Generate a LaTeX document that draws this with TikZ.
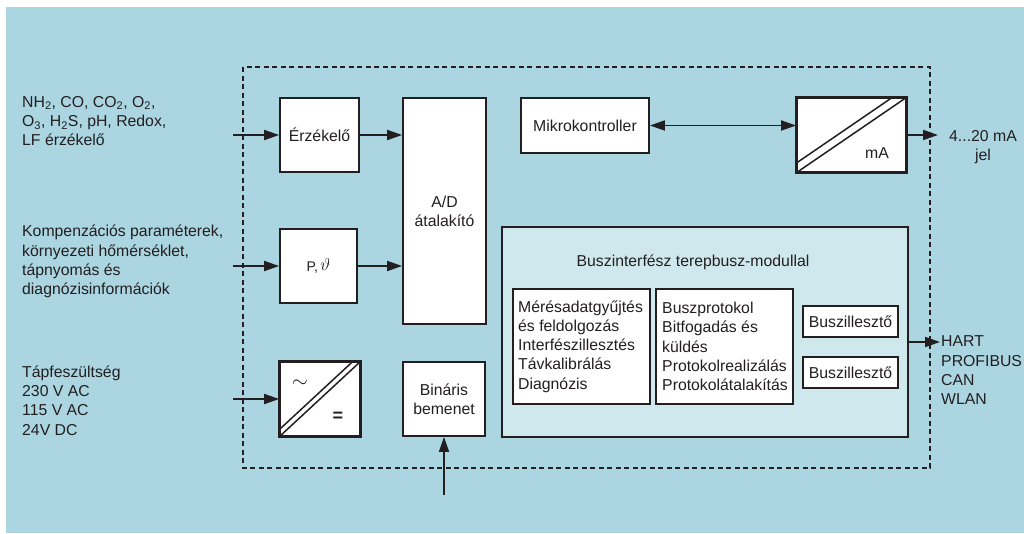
\documentclass[tikz,border=0pt]{standalone}
\usepackage{fontspec}
\setmainfont{Liberation Sans}
\usetikzlibrary{arrows.meta}
\definecolor{bgblue}{RGB}{170,213,225}
\definecolor{busfill}{RGB}{207,232,238}
\definecolor{ink}{RGB}{35,31,32}
\tikzset{
  blk/.style={draw=ink, fill=white, line width=1.8pt, inner sep=0pt, align=center, text=ink},
  arr/.style={draw=ink, line width=1.8pt, -{Triangle[length=15pt,width=10pt]}},
  darr/.style={draw=ink, line width=1.8pt, {Triangle[length=15pt,width=10pt]}-{Triangle[length=15pt,width=10pt]}},
  txt/.style={inner sep=0pt, align=left, text=ink, font=\fontsize{15.8}{19.3}\selectfont},
  diag/.style={draw=ink, line width=1.5pt}
}
\begin{document}
\begin{tikzpicture}[x=1pt,y=-1pt, font=\fontsize{15.8}{19.3}\selectfont]
\useasboundingbox (0,0) rectangle (1024,533);
\fill[white] (0,0) rectangle (1024,533);
\fill[bgblue] (6,7) rectangle (1024,533);
% dashed frame
\draw[ink, line width=1.8pt, dash pattern=on 5pt off 3.5pt] (243,67) rectangle (930,468);

% blocks
\node[blk, minimum width=79pt, minimum height=74pt] (erz) at (319.5,135) {Érzékelő};
\node[blk, minimum width=83pt, minimum height=226pt] (ad) at (444.5,211) {A/D\\átalakító};
\node[blk, minimum width=128pt, minimum height=55pt] (mik) at (585,125.5) {Mikrokontroller};
\node[blk, minimum width=109pt, minimum height=74pt] (ma) at (851.5,135) {};
\node[blk, minimum width=77pt, minimum height=74pt, font=\fontsize{14}{16}\selectfont] (pt) at (318.5,266) {P,\,\raisebox{0.3pt}{\fontsize{17}{17}\selectfont$\vartheta$}};
\node[blk, minimum width=80pt, minimum height=74pt] (pow) at (320,399) {};
\node[blk, minimum width=82pt, minimum height=74pt] (bin) at (444,399) {Bináris\\bemenet};
\node[blk, fill=busfill, minimum width=406pt, minimum height=210pt] (bus) at (705,332) {};
\node[txt] (bustitle) at (693,262) {Buszinterfész terepbusz-modullal};
\node[blk, minimum width=137pt, minimum height=115pt] (in1) at (581.5,346.5) {};
\node[blk, minimum width=137pt, minimum height=115pt] (in2) at (724.5,346.5) {};
\node[txt, anchor=west] (t1) at (518,346.5) {Mérésadatgyűjtés\\és feldolgozás\\Interfészillesztés\\Távkalibrálás\\Diagnózis};
\node[txt, anchor=west] (t2) at (662,346.5) {Buszprotokol\\Bitfogadás és\\küldés\\Protokolrealizálás\\Protokolátalakítás};
\node[blk, minimum width=95pt, minimum height=31pt] (bi1) at (850.5,321.5) {Buszillesztő};
\node[blk, minimum width=95pt, minimum height=31pt] (bi2) at (850.5,372.5) {Buszillesztő};

% converter diagonals
\begin{scope}
  \clip (ma.south west) rectangle (ma.north east);
  \draw[diag] (ma.south west) -- (ma.north east);
  \draw[diag] ([shift={(-4.5,-6.6)}]ma.south west) -- ([shift={(-4.5,-6.6)}]ma.north east);
\end{scope}
\node[txt] (malbl) at (877,153) {mA};
\begin{scope}
  \clip (pow.south west) rectangle (pow.north east);
  \draw[diag] (pow.south west) -- (pow.north east);
  \draw[diag] ([shift={(-3.8,-3.6)}]pow.south west) -- ([shift={(-3.8,-3.6)}]pow.north east);
\end{scope}
\node[txt, font=\fontsize{22}{22}\selectfont] (tilde) at (300,384) {$\sim$};
\node[txt, font=\bfseries\fontsize{18}{19}\selectfont] (eq) at (338,417) {=};
\draw[ink, line width=1.8pt] (pow.south west) rectangle (pow.north east);
\draw[ink, line width=1.8pt] (ma.south west) rectangle (ma.north east);

% left texts
\node[txt, anchor=west] (l1) at (22,121) {NH\textsubscript{2}, CO, CO\textsubscript{2}, O\textsubscript{2},\\O\textsubscript{3}, H\textsubscript{2}S, pH, Redox,\\LF érzékelő};
\node[txt, anchor=west] (l2) at (22,261.5) {Kompenzációs paraméterek,\\környezeti hőmérséklet,\\tápnyomás és\\diagnózisinformációk};
\node[txt, anchor=west] (l3) at (22,400.5) {Tápfeszültség\\230 V AC\\115 V AC\\24V DC};
\node[txt, align=center] (r1) at (983,147) {4...20 mA\\jel};
\node[txt, anchor=west] (r2) at (941,370.5) {HART\\PROFIBUS\\CAN\\WLAN};

% connectors
\coordinate (i1) at (233,135);
\coordinate (i2) at (233,266);
\coordinate (i3) at (233,399);
\coordinate (ib) at (444,495);
\coordinate (o1) at (938,135);
\coordinate (o2) at (940,342);
\draw[arr] (i1) -- (erz.west);
\draw[arr] (erz.east) -- (erz.east -| ad.west);
\draw[arr] (i2) -- (pt.west);
\draw[arr] (pt.east) -- (pt.east -| ad.west);
\draw[darr] (mik.east) -- (mik.east -| ma.west);
\draw[arr] (ma.east) -- (o1);
\draw[arr] (i3) -- (pow.west);
\draw[arr] (ib) -- (bin.south);
\draw[arr] (o2 -| bus.east) -- (o2);
\end{tikzpicture}
\end{document}
